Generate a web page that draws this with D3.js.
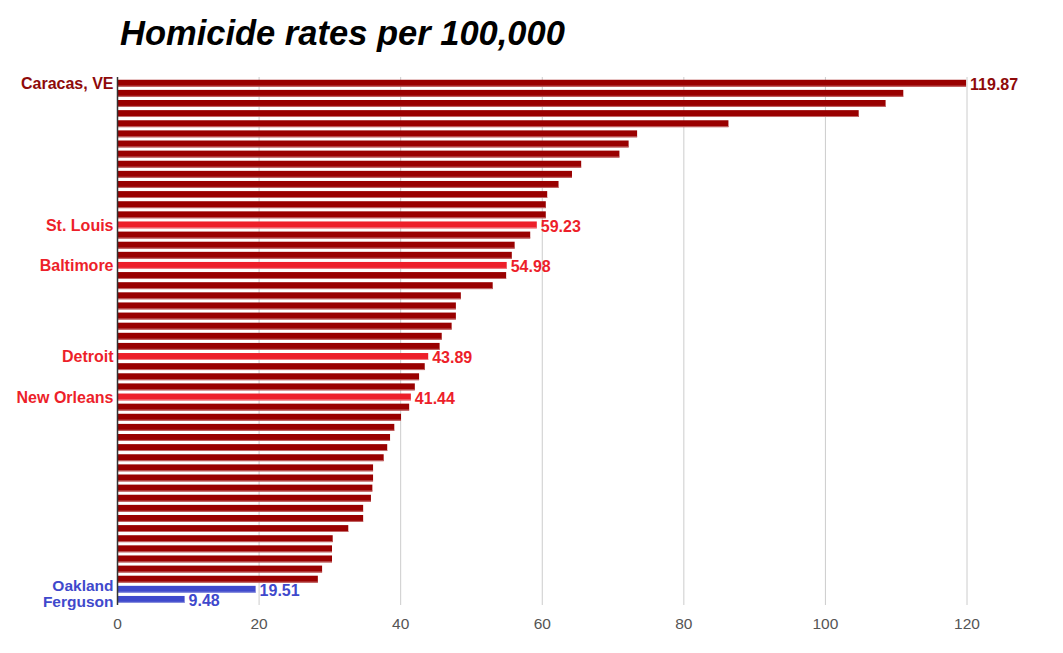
<!DOCTYPE html>
<html>
<head>
<meta charset="utf-8">
<script src="https://cdnjs.cloudflare.com/ajax/libs/d3/7.8.5/d3.min.js"></script>
<style>
  body { margin: 0; background: #fff; }
  svg { font-family: "Liberation Sans", Arial, sans-serif; }
</style>
</head>
<body>
<div id="chart"></div>
<script>
// homicide rates, sorted high to low; only a few cities are labelled
var values = [119.87, 111.0, 108.5, 104.7, 86.3, 73.4, 72.2, 70.9, 65.5, 64.2,
    62.3, 60.7, 60.5, 60.5, 59.23, 58.3, 56.1, 55.7, 54.98, 54.9,
    53.0, 48.5, 47.8, 47.8, 47.2, 45.8, 45.5, 43.89, 43.4, 42.6,
    42.0, 41.44, 41.2, 40.05, 39.1, 38.5, 38.1, 37.6, 36.1, 36.1,
    36.0, 35.8, 34.7, 34.7, 32.6, 30.4, 30.3, 30.3, 28.9, 28.3,
    19.51, 9.48];
var labels = ["Caracas, VE"];
labels[14] = "St. Louis";
labels[18] = "Baltimore";
labels[27] = "Detroit";
labels[31] = "New Orleans";
labels[50] = "Oakland";
labels[51] = "Ferguson";
// group: 0 = other, 1 = Caracas, 2 = highlighted US city, 3 = comparison
var groups = values.map(function (v, i) { return 0; });
groups[0] = 1;
[14, 18, 27, 31].forEach(function (i) { groups[i] = 2; });
groups[50] = 3;
groups[51] = 3;
var xTicks = [0, 20, 40, 60, 80, 100, 120];

var barColor = ["#990000", "#990000", "#ed1f2a", "#3f49cc"];
var edgeColor = ["#c46a6a", "#c46a6a", "#f27f86", "#8f95e0"];
var textColor = ["#990000", "#8e0a0a", "#ed1f2a", "#3f49cc"];

var W = 1063, H = 653;
var svg = d3.select("#chart").append("svg")
    .attr("width", W)
    .attr("height", H);

var x = d3.scaleLinear().domain([0, 120]).range([117.5, 967]);
var y = d3.scaleBand()
    .domain(d3.range(values.length))
    .range([78.75, 603.85])
    .paddingInner(0.32)
    .paddingOuter(0.1);

var gridTop = 77, gridBottom = 605;

// gridlines
svg.append("g").selectAll("line")
    .data(xTicks.slice(1))
    .enter().append("line")
    .attr("x1", function (d) { return x(d); })
    .attr("x2", function (d) { return x(d); })
    .attr("y1", gridTop)
    .attr("y2", gridBottom)
    .attr("stroke", "#cccccc")
    .attr("stroke-width", 1);

// x tick labels
svg.append("g").selectAll("text")
    .data(xTicks)
    .enter().append("text")
    .attr("x", function (d) { return x(d); })
    .attr("y", 629)
    .attr("text-anchor", "middle")
    .attr("font-size", "15.5px")
    .attr("fill", "#555")
    .text(function (d) { return d; });

// bars
var bars = svg.append("g").selectAll("g")
    .data(values)
    .enter().append("g");

bars.append("rect")
    .attr("x", x(0))
    .attr("y", function (d, i) { return y(i); })
    .attr("width", function (d) { return x(d) - x(0); })
    .attr("height", y.bandwidth())
    .attr("fill", function (d, i) { return barColor[groups[i]]; });

bars.append("rect")
    .attr("x", x(0))
    .attr("y", function (d, i) { return y(i) + y.bandwidth() - 1; })
    .attr("width", function (d) { return x(d) - x(0); })
    .attr("height", 1)
    .attr("fill", function (d, i) { return edgeColor[groups[i]]; });

// axis line
svg.append("line")
    .attr("x1", x(0))
    .attr("x2", x(0))
    .attr("y1", gridTop)
    .attr("y2", gridBottom)
    .attr("stroke", "#333")
    .attr("stroke-width", 1.5);

var labelled = d3.range(values.length).filter(function (i) { return labels[i]; });

// small nudge so the two bottom labels do not collide
var nudge = function (i) { return i === 50 ? -3.5 : (i === 51 ? 2 : 0); };

svg.append("g").selectAll("text")
    .data(labelled)
    .enter().append("text")
    .attr("x", x(0) - 4)
    .attr("y", function (i) { return y(i) + y.bandwidth() / 2 + nudge(i); })
    .attr("dy", "0.36em")
    .attr("text-anchor", "end")
    .attr("font-size", function (i) { return groups[i] === 3 ? "15.5px" : "16px"; })
    .attr("font-weight", "bold")
    .attr("fill", function (i) { return textColor[groups[i]]; })
    .text(function (i) { return labels[i]; });

svg.append("g").selectAll("text")
    .data(labelled)
    .enter().append("text")
    .attr("x", function (i) { return x(values[i]) + 4; })
    .attr("y", function (i) { return y(i) + y.bandwidth() / 2 + 1; })
    .attr("dy", "0.36em")
    .attr("font-size", "16px")
    .attr("font-weight", "bold")
    .attr("fill", function (i) { return textColor[groups[i]]; })
    .text(function (i) { return values[i].toFixed(2); });

// title
svg.append("text")
    .attr("x", 120)
    .attr("y", 45)
    .attr("font-size", "34.5px")
    .attr("font-weight", "bold")
    .attr("font-style", "italic")
    .attr("fill", "#000")
    .text("Homicide rates per 100,000");
</script>
</body>
</html>
